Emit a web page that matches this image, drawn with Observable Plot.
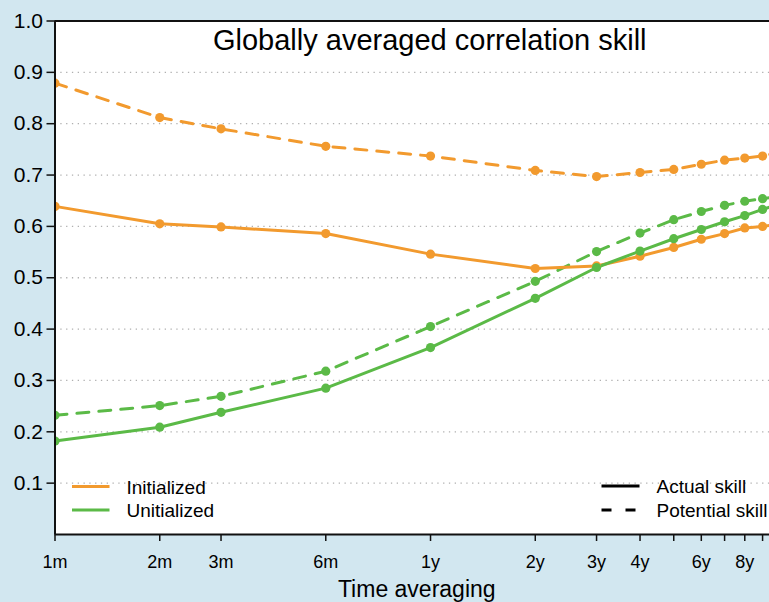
<!DOCTYPE html>
<html><head><meta charset="utf-8">
<script src="https://cdn.jsdelivr.net/npm/d3@7"></script>
<script src="https://cdn.jsdelivr.net/npm/@observablehq/plot@0.6"></script>
<style>
html,body{margin:0;padding:0;background:#d2e7f0;overflow:hidden;width:769px;height:602px;}
#chart{position:relative;width:769px;height:602px;overflow:hidden;}
#chart svg{display:block;max-width:none !important;width:778px !important;height:602px !important;}
</style></head><body><div id="chart"></div>
<script>
// averaging windows in months
const months = [1, 2, 3, 6, 12, 24, 36, 48, 60, 72, 84, 96, 108, 120];
const initActual      = [0.639, 0.605, 0.599, 0.586, 0.546, 0.518, 0.523, 0.542, 0.559, 0.575, 0.586, 0.597, 0.600, 0.604];
const initPotential   = [0.879, 0.812, 0.790, 0.756, 0.737, 0.709, 0.697, 0.705, 0.711, 0.721, 0.729, 0.733, 0.737, 0.744];
const uninitActual    = [0.182, 0.209, 0.238, 0.285, 0.364, 0.460, 0.520, 0.552, 0.576, 0.594, 0.609, 0.621, 0.633, 0.643];
const uninitPotential = [0.232, 0.251, 0.269, 0.318, 0.405, 0.493, 0.551, 0.587, 0.613, 0.629, 0.641, 0.649, 0.654, 0.658];

const tickMonths = [1, 2, 3, 6, 12, 24, 36, 48, 60, 72, 84, 96, 108];
const tickLabels = ["1m", "2m", "3m", "6m", "1y", "2y", "3y", "4y", "", "6y", "", "8y", ""];
const yTicks = [0.1, 0.2, 0.3, 0.4, 0.5, 0.6, 0.7, 0.8, 0.9, 1.0];
const gridValues = [0.1, 0.2, 0.3, 0.4, 0.5, 0.6, 0.7, 0.8, 0.9];
const groups = ["Initialized", "Unitialized"];
const kinds = ["Actual skill", "Potential skill"];
const title = "Globally averaged correlation skill";
const xLabel = "Time averaging";

const ORANGE = "#f29a2e", GREEN = "#5bba47";
const FONT = "'Liberation Sans', Arial, Helvetica, sans-serif";

const seriesList = [
  {group: groups[0], kind: kinds[0], values: initActual},
  {group: groups[0], kind: kinds[1], values: initPotential},
  {group: groups[1], kind: kinds[0], values: uninitActual},
  {group: groups[1], kind: kinds[1], values: uninitPotential}
];
const data = [];
seriesList.forEach(s => s.values.forEach((v, i) => data.push({month: months[i], value: v, group: s.group, kind: s.kind})));
const actual = data.filter(d => d.kind === kinds[0]);
const potential = data.filter(d => d.kind === kinds[1]);
const xTickTable = tickMonths.map((m, i) => ({month: m, label: tickLabels[i]}));

const chart = Plot.plot({
  width: 778, height: 602,
  marginLeft: 54.5, marginRight: 0, marginTop: 20.5, marginBottom: 68,
  style: {background: "transparent", fontFamily: FONT, color: "black", maxWidth: "none"},
  x: {type: "log", domain: [1, 120], axis: null},
  y: {domain: [0, 1], axis: null},
  color: {domain: groups, range: [ORANGE, GREEN]},
  marks: [
    Plot.frame({fill: "white", stroke: null}),
    Plot.ruleY(gridValues, {stroke: "#b0b0b0", strokeWidth: 1.3, strokeDasharray: "1.3,4.5"}),
    Plot.line(potential, {x: "month", y: "value", z: "group", stroke: "group", strokeWidth: 3, strokeDasharray: "12,10", clip: true}),
    Plot.line(actual, {x: "month", y: "value", z: "group", stroke: "group", strokeWidth: 3, clip: true}),
    Plot.dot(data, {x: "month", y: "value", fill: "group", r: 4.6, clip: true}),
    Plot.ruleY([0, 1], {stroke: "#111", strokeWidth: 2}),
    Plot.ruleX([1], {stroke: "#111", strokeWidth: 2}),
    Plot.axisY(yTicks, {label: null, tickSize: 8, tickPadding: 4, fontSize: 21, stroke: "#111", strokeWidth: 1.5, tickFormat: d3.format(".1f")}),
    Plot.axisX(tickMonths, {label: null, tickSize: 7, tickPadding: 14, fontSize: 18, stroke: "#111", strokeWidth: 1.5, tickFormat: () => ""}),
    Plot.text(xTickTable, {x: "month", text: "label", frameAnchor: "bottom", lineAnchor: "top", dy: 21, fontSize: 18}),
    Plot.text([xLabel], {frameAnchor: "bottom", lineAnchor: "top", dy: 46, fontSize: 23}),
    Plot.text([title], {frameAnchor: "top", lineAnchor: "top", dy: 8.5, dx: 13, fontSize: 29})
  ]
});
document.getElementById("chart").appendChild(chart);

// legends inside the plot area
const svg = d3.select(chart);
const lg = svg.append("g").attr("font-family", FONT).attr("font-size", 19).attr("text-anchor", "start");
const leftItems = [{label: groups[0], color: ORANGE, y: 486.5}, {label: groups[1], color: GREEN, y: 510}];
leftItems.forEach(it => {
  lg.append("line").attr("x1", 72).attr("x2", 109.5).attr("y1", it.y).attr("y2", it.y)
    .attr("stroke", it.color).attr("stroke-width", 3);
  lg.append("text").attr("x", 126.5).attr("y", it.y + 7).attr("text-anchor", "start").text(it.label);
});
const rightItems = [{label: kinds[0], dash: null, y: 486}, {label: kinds[1], dash: "10,14", y: 510}];
rightItems.forEach(it => {
  const l = lg.append("line").attr("x1", 601.5).attr("x2", 639.5).attr("y1", it.y).attr("y2", it.y)
    .attr("stroke", "black").attr("stroke-width", 3);
  if (it.dash) l.attr("stroke-dasharray", it.dash);
  lg.append("text").attr("x", 656.5).attr("y", it.y + 7).attr("text-anchor", "start").text(it.label);
});
</script></body></html>
